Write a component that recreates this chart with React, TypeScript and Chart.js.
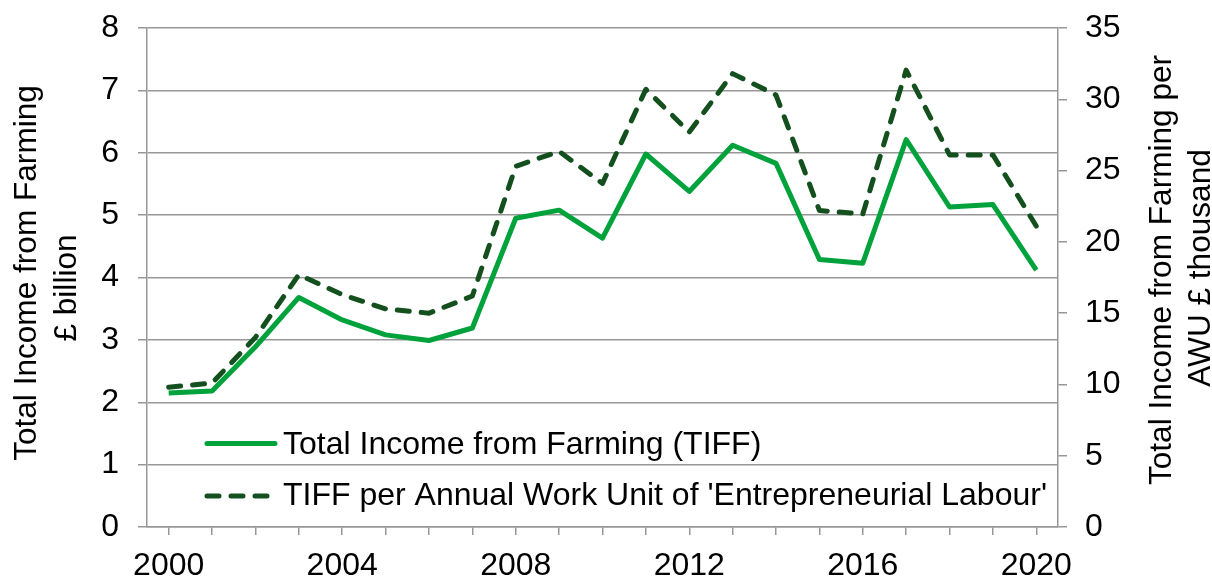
import React, { useEffect, useRef } from 'react';
import { Chart, registerables } from 'chart.js';

Chart.register(...registerables);

const years = ['2000', '2001', '2002', '2003', '2004', '2005', '2006', '2007', '2008', '2009', '2010',
  '2011', '2012', '2013', '2014', '2015', '2016', '2017', '2018', '2019', '2020'];
const tiff = [2.15, 2.18, 2.89, 3.68, 3.32, 3.08, 2.99, 3.19, 4.95, 5.08, 4.63,
  5.98, 5.38, 6.12, 5.83, 4.29, 4.23, 6.21, 5.13, 5.17, 4.12];
const tiffPerAwu = [9.8, 10.1, 13.3, 17.7, 16.3, 15.3, 15.0, 16.2, 25.3, 26.35, 24.1,
  30.7, 27.7, 31.8, 30.3, 22.2, 21.95, 32.05, 26.1, 26.1, 21.1];
const seriesNames = ['Total Income from Farming (TIFF)', "TIFF per Annual Work Unit of 'Entrepreneurial Labour'"];
const leftTitle = ['Total Income from Farming', '£ billion'];
const rightTitle = ['Total Income from Farming per', 'AWU £ thousand'];

const FONT = "'Liberation Sans', Arial, sans-serif";
const GREEN = '#00A23C';
const DARK = '#14501E';
const GRID = '#979797';

const overlay = {
  id: 'overlay',
  afterDraw(chart: any) {
    const ctx = chart.ctx;
    ctx.save();
    ctx.fillStyle = '#000';
    ctx.font = `31.6px ${FONT}`;
    ctx.textAlign = 'center';
    ctx.textBaseline = 'alphabetic';
    const drawRot = (t: string, x: number, y: number) => {
      ctx.save();
      ctx.translate(x, y);
      ctx.rotate(-Math.PI / 2);
      ctx.fillText(t, 0, 0);
      ctx.restore();
    };
    drawRot(leftTitle[0], 36, 273);
    drawRot(leftTitle[1], 76, 288);
    drawRot(rightTitle[0], 1171, 270);
    drawRot(rightTitle[1], 1210, 268);

    // legend
    ctx.font = `32px ${FONT}`;
    ctx.textAlign = 'left';
    ctx.lineCap = 'round';
    ctx.lineWidth = 5;
    ctx.strokeStyle = GREEN;
    ctx.setLineDash([]);
    ctx.beginPath();
    ctx.moveTo(207, 443.5);
    ctx.lineTo(275, 443.5);
    ctx.stroke();
    ctx.strokeStyle = DARK;
    ctx.setLineDash([12, 12]);
    ctx.beginPath();
    ctx.moveTo(207, 496);
    ctx.lineTo(270, 496);
    ctx.stroke();
    ctx.setLineDash([]);
    ctx.fillText(seriesNames[0], 283, 453.5);
    ctx.fillText(seriesNames[1], 283, 505);
    ctx.restore();
  },
};

const noPad = (s: any) => {
  s.paddingTop = 0;
  s.paddingBottom = 0;
  s.paddingLeft = 0;
  s.paddingRight = 0;
};

export default function App() {
  const ref = useRef<HTMLCanvasElement | null>(null);
  useEffect(() => {
    if (!ref.current) return;
    const chart = new Chart(ref.current, {
      type: 'line',
      data: {
        labels: years,
        datasets: [
          {
            label: seriesNames[0],
            data: tiff,
            yAxisID: 'y',
            borderColor: GREEN,
            backgroundColor: GREEN,
            borderWidth: 5,
            pointRadius: 0,
            tension: 0,
            borderJoinStyle: 'round',
          },
          {
            label: seriesNames[1],
            data: tiffPerAwu,
            yAxisID: 'y1',
            borderColor: DARK,
            backgroundColor: DARK,
            borderWidth: 5,
            borderDash: [12, 12],
            borderCapStyle: 'round',
            pointRadius: 0,
            tension: 0,
            borderJoinStyle: 'round',
          },
        ],
      },
      options: {
        animation: false,
        responsive: false,
        layout: { padding: { top: 28, left: 0, right: 0, bottom: 0 } },
        plugins: { legend: { display: false }, tooltip: { enabled: false } },
        scales: {
          x: {
            type: 'category',
            offset: true,
            grid: { drawOnChartArea: false, drawTicks: true, tickLength: 8, color: GRID, lineWidth: 1.5, offset: false },
            border: { color: GRID, width: 1.5 },
            ticks: {
              autoSkip: false,
              maxRotation: 0,
              padding: 12,
              color: '#000',
              font: { family: FONT, size: 32 },
              callback: (_v: any, i: number) => (i % 4 === 0 ? years[i] : ''),
            },
            afterFit: (s: any) => { s.height = 49; noPad(s); },
          },
          y: {
            position: 'left',
            min: 0,
            max: 8,
            grid: { color: GRID, lineWidth: 1.5, tickLength: 9 },
            border: { color: GRID, width: 1.5 },
            ticks: { stepSize: 1, padding: 19, color: '#000', font: { family: FONT, size: 32 } },
            afterFit: (s: any) => { s.width = 147; noPad(s); },
          },
          y1: {
            position: 'right',
            min: 0,
            max: 35,
            grid: { drawOnChartArea: false, color: GRID, lineWidth: 1.5, tickLength: 9 },
            border: { color: GRID, width: 1.5 },
            ticks: { stepSize: 5, padding: 18, color: '#000', font: { family: FONT, size: 32 } },
            afterFit: (s: any) => { s.width = 154; noPad(s); },
          },
        },
      },
      plugins: [overlay],
    });
    return () => chart.destroy();
  }, []);
  return (
    <div style={{ position: 'fixed', left: 0, top: 0, width: 1212, height: 576, background: '#fff' }}>
      <canvas ref={ref} width={1212} height={576} style={{ display: 'block' }} />
    </div>
  );
}
